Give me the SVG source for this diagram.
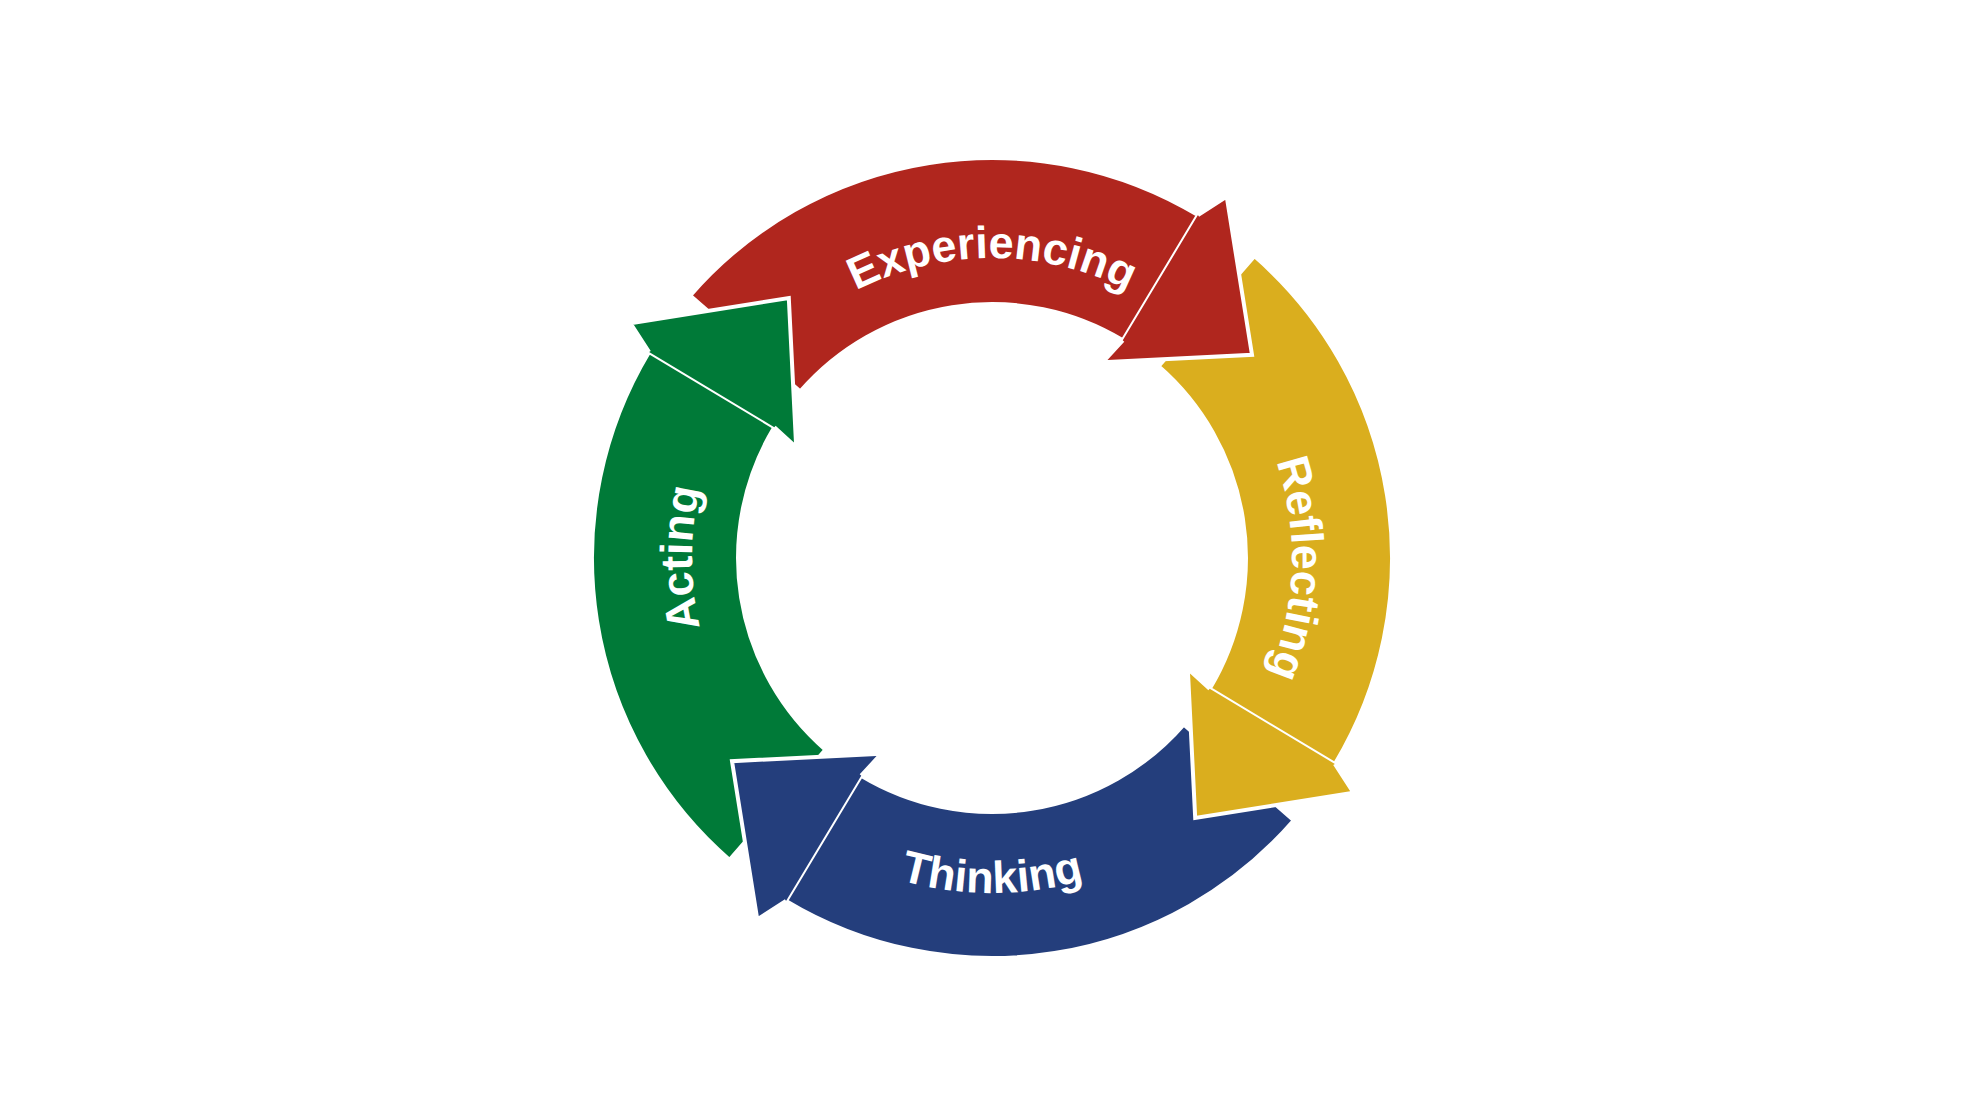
<svg xmlns="http://www.w3.org/2000/svg" xmlns:xlink="http://www.w3.org/1999/xlink" width="1984" height="1116" viewBox="0 0 1984 1116">
<style>
.b{stroke:#fff;stroke-width:4;stroke-linejoin:miter}
.t{font-family:"Liberation Sans",Arial,sans-serif;font-weight:bold;font-size:45px;fill:#fff}
</style>
<defs>
<path id="body" d="M690.1,295.6 A400,400 0 0 1 1198,215.1 L1122.8,340.3 A254,254 0 0 0 800.3,391.4 Z"/>
<path id="head" d="M1198,215.1 L1226.7,196.5 L1252,354.8 L1102.8,362.2 L1122.8,340.3"/>
<path id="cw" d="M692,558 A300,300 0 0 1 1292,558"/>
<path id="ccw" d="M657,558 A335,335 0 0 0 1327,558"/>
</defs>
<rect width="1984" height="1116" fill="#fff"/>
<g id="connectors">
<g id="experiencing-body"><use href="#body" class="b" fill="#B0261E"/></g>
<g id="reflecting-body" transform="rotate(90 992 558)"><use href="#body" class="b" fill="#DAAE1E"/></g>
<g id="thinking-body" transform="rotate(180 992 558)"><use href="#body" class="b" fill="#243E7C"/></g>
<g id="acting-body" transform="rotate(270 992 558)"><use href="#body" class="b" fill="#007A38"/></g>
<g id="experiencing-head"><use href="#head" class="b" fill="#B0261E"/></g>
<g id="reflecting-head" transform="rotate(90 992 558)"><use href="#head" class="b" fill="#DAAE1E"/></g>
<g id="thinking-head" transform="rotate(180 992 558)"><use href="#head" class="b" fill="#243E7C"/></g>
<g id="acting-head" transform="rotate(270 992 558)"><use href="#head" class="b" fill="#007A38"/></g>
</g>
<g id="node-experiencing"><text class="t" text-anchor="middle"><textPath href="#cw" startOffset="50%">Experiencing</textPath></text></g>
<g id="node-reflecting" transform="rotate(92 992 558)"><text class="t" text-anchor="middle"><textPath href="#cw" startOffset="50%">Reflecting</textPath></text></g>
<g id="node-thinking"><text class="t" text-anchor="middle"><textPath href="#ccw" startOffset="50%">Thinking</textPath></text></g>
<g id="node-acting" transform="rotate(270 992 558)"><text class="t" text-anchor="middle"><textPath href="#cw" startOffset="50%">Acting</textPath></text></g>
</svg>
